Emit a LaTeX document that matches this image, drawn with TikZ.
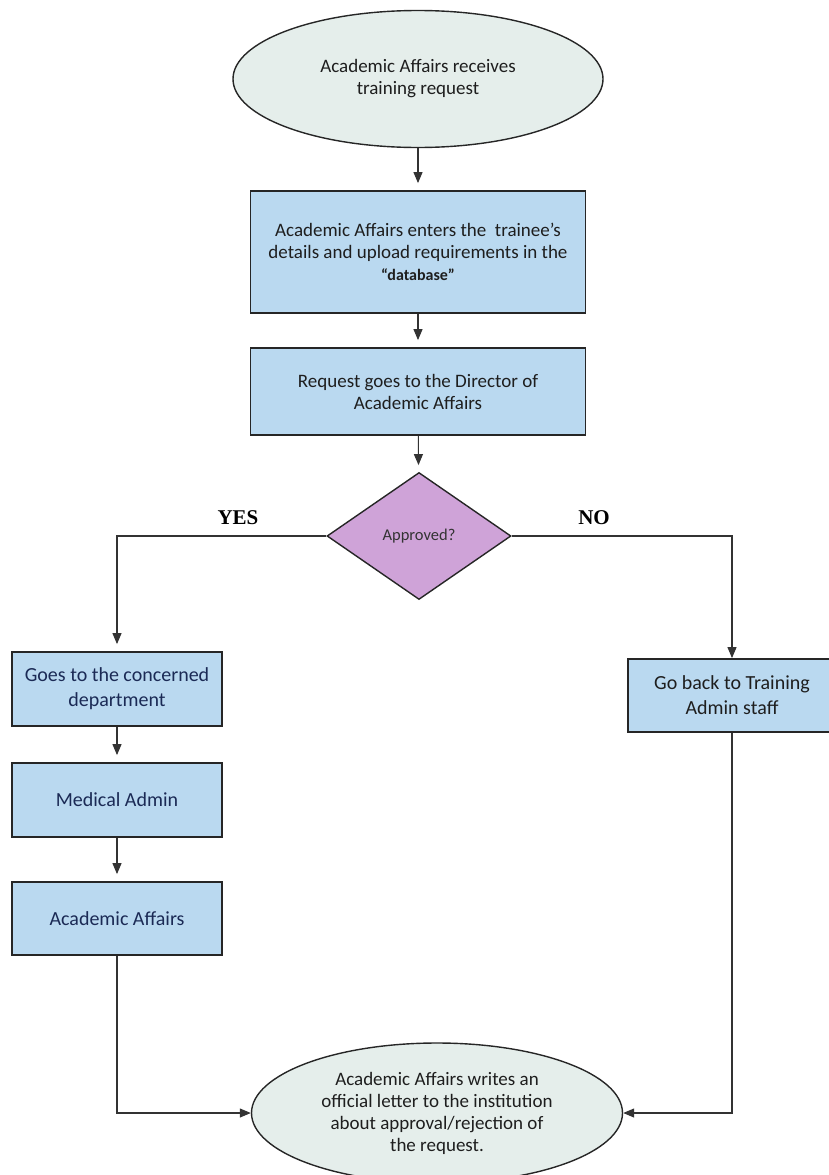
\documentclass[tikz,border=0pt]{standalone}
\usepackage{fontspec}
\setmainfont{Carlito}
\newfontfamily\answerfont{Liberation Serif}
\usetikzlibrary{positioning, arrows.meta, shapes.geometric}

\definecolor{boxblue}{HTML}{BAD9F0}
\definecolor{ovalgrey}{HTML}{E5EEEB}
\definecolor{diamondpink}{HTML}{CFA3D8}
\definecolor{linegrey}{HTML}{333333}
\definecolor{navytext}{HTML}{1B2A55}
\definecolor{darktext}{HTML}{1E1E1E}

\begin{document}
\begin{tikzpicture}[
    x=1pt, y=-1pt,
    oval/.style={
        ellipse, draw=black!85, line width=1.4pt, fill=ovalgrey,
        align=center, inner sep=0pt, text=darktext,
        font=\fontsize{19}{22}\selectfont
    },
    stepbox/.style={
        rectangle, draw=black!85, line width=1.8pt, fill=boxblue,
        align=center, inner sep=0pt, minimum width=335pt, text=darktext,
        font=\fontsize{19}{22}\selectfont
    },
    sidebox/.style={
        stepbox, minimum width=210pt, minimum height=74pt,
        font=\fontsize{20}{25}\selectfont
    },
    decision/.style={
        diamond, draw=black!85, line width=1.4pt, fill=diamondpink,
        inner sep=0pt, minimum width=184pt, minimum height=127pt,
        text=black!80, font=\fontsize{16.5}{20}\selectfont
    },
    answer/.style={
        font=\answerfont\bfseries\fontsize{21}{24}\selectfont
    },
    flow/.style={
        draw=linegrey, line width=1.1pt,
        -{Triangle[length=11pt, width=9pt]}
    },
    gap/.style={shorten >=7pt}
]

\useasboundingbox (0, 0) rectangle (828, 1175);

% Main column
\node[oval, minimum width=370pt, minimum height=137pt] (receive) at (418, 79)
    {Academic Affairs receives\\training request};

\node[stepbox, minimum height=122pt] (enter) at (418, 252)
    {Academic Affairs enters the~ trainee’s\\
     details and upload requirements in the\\
     {\bfseries\fontsize{16}{22}\selectfont “database”}};

\node[stepbox, minimum height=87pt] (director) at (418, 391.5)
    {Request goes to the Director of\\Academic Affairs};

\node[decision] (approved) at (419, 536) {Approved?};

% YES branch
\node[sidebox, text=navytext] (department) at (117, 689)
    {Goes to the concerned\\department};
\node[sidebox, text=navytext] (medical) at (117, 800) {Medical Admin};
\node[sidebox, text=navytext, minimum height=73pt] (affairs) at (117, 918.5)
    {Academic Affairs};

% NO branch
\node[sidebox, minimum width=208pt, minimum height=73pt] (goback) at (732, 695.5)
    {Go back to Training\\Admin staff};

% End
\node[oval, minimum width=371pt, minimum height=140pt] (letter) at (437, 1113)
    {Academic Affairs writes an\\official letter to the institution\\
     about approval/rejection of\\the request.};

% Branch labels
\node[answer] (yes) at (238, 518) {YES};
\node[answer] (no) at (594, 518) {NO};

% Connectors
\draw[flow, gap] (receive) -- (enter);
\draw[flow, gap] (enter) -- (director);
\draw[flow, gap] (director) -- (approved);
\draw[flow, gap] (approved.west) -| (department.north);
\draw[flow] (approved.east) -| (goback.north);
\draw[flow, gap] (department) -- (medical);
\draw[flow, gap] (medical) -- (affairs);
\draw[flow] (affairs.south) |- (letter.west);
\draw[flow] (goback.south) |- (letter.east);

\end{tikzpicture}
\end{document}
